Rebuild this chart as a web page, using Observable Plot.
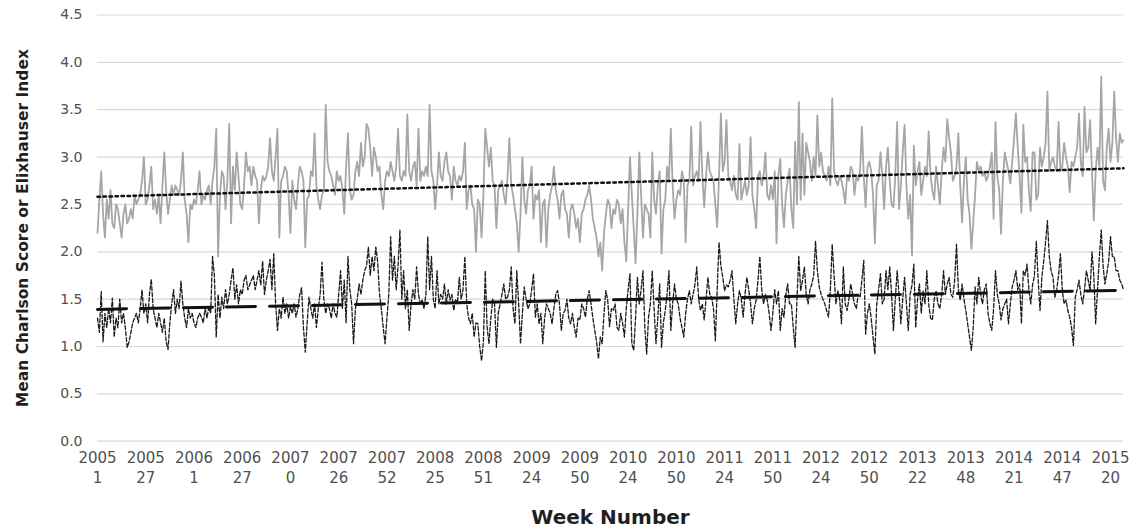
<!DOCTYPE html>
<html>
<head>
<meta charset="utf-8">
<script src="https://cdn.jsdelivr.net/npm/d3@7"></script>
<script src="https://cdn.jsdelivr.net/npm/@observablehq/plot@0.6"></script>
<style>
  body { margin: 0; background: #fff; }
  svg { display: block; }
</style>
</head>
<body>
<div id="chart"></div>
<script>
// Weekly mean Elixhauser index (grey series), 2005 week 1 onwards
const elixhauser = [
  2.20,2.55,2.85,2.40,2.15,2.55,2.35,2.65,2.30,2.25,2.50,2.45,2.30,2.15,2.40,2.50,2.30,2.35,2.45,2.35,2.60,2.50,2.55,2.60,2.75,3.00,
  2.50,2.55,2.70,2.90,2.45,2.55,2.40,2.60,2.30,2.70,3.05,2.65,2.40,2.55,2.70,2.60,2.70,2.65,2.60,2.75,3.05,2.55,2.40,2.10,2.50,2.45,
  2.55,2.50,2.65,2.85,2.50,2.60,2.55,2.65,2.70,2.50,2.75,2.90,3.30,1.95,2.60,2.85,2.80,2.45,2.75,3.35,2.30,2.90,2.65,3.05,2.80,2.50,
  2.45,2.70,3.05,2.85,2.90,2.70,2.90,2.80,2.75,2.30,2.65,2.80,2.75,2.80,2.90,3.20,2.85,2.75,3.00,3.30,2.15,2.75,2.80,2.90,2.85,2.60,
  2.20,2.75,2.55,2.45,2.70,2.90,2.85,2.75,2.05,2.55,2.60,2.85,2.80,3.25,2.70,2.55,2.45,2.60,2.65,3.55,2.95,2.85,2.80,2.70,2.60,2.85,
  2.75,2.80,2.65,2.40,2.90,3.25,2.65,2.55,2.60,2.85,2.95,2.80,3.15,2.90,3.00,3.35,3.30,3.10,2.80,3.10,3.00,2.85,2.90,2.60,2.45,2.75,
  2.85,2.80,2.95,2.85,2.75,2.90,3.30,2.80,2.75,2.85,2.80,3.45,2.85,2.75,2.90,2.95,2.70,3.30,2.75,2.85,2.80,2.90,2.80,3.55,2.85,2.75,
  2.45,2.70,3.05,2.80,2.75,2.95,3.05,2.85,2.80,2.55,2.90,2.75,2.70,2.80,2.75,2.85,3.15,2.45,2.65,2.70,2.50,2.45,2.00,2.55,2.50,2.15,
  2.60,3.30,3.10,2.90,3.10,2.75,2.70,2.25,2.65,2.70,2.75,2.60,2.50,2.80,3.20,2.70,2.60,2.45,2.30,2.00,2.40,3.00,2.55,2.40,2.65,2.70,
  2.90,2.35,2.60,2.55,2.65,2.10,2.50,2.55,2.05,2.45,2.60,2.70,2.90,2.65,2.55,2.35,2.60,2.65,2.45,2.40,2.15,2.45,2.50,2.40,2.25,2.35,
  2.10,2.40,2.45,2.55,2.60,2.70,2.55,2.35,2.25,2.15,1.95,2.10,1.80,2.20,2.40,2.55,2.50,2.25,2.45,2.40,2.55,2.50,2.30,2.45,2.10,1.90,
  2.45,3.00,2.60,2.25,1.88,2.40,3.05,2.60,2.15,2.50,2.45,2.40,2.15,3.05,2.55,2.40,2.70,2.85,1.98,2.45,2.55,2.90,2.75,3.30,2.70,2.35,
  2.55,2.65,2.60,2.85,2.75,2.10,2.70,2.75,3.32,2.70,2.80,2.85,2.75,3.37,2.80,2.47,2.80,3.05,2.85,2.80,2.75,2.50,2.26,2.80,3.46,2.85,
  2.95,3.39,2.80,2.75,2.65,2.80,2.60,2.55,3.14,2.55,2.65,2.75,2.60,2.70,3.21,2.60,2.45,2.25,2.80,2.85,2.70,2.80,3.05,2.60,2.55,2.70,
  2.55,2.85,2.09,2.80,2.98,2.50,2.26,2.60,2.75,2.88,2.45,2.25,3.16,2.50,3.58,2.55,3.25,2.60,3.15,3.05,2.95,2.75,3.00,2.80,3.44,2.90,
  3.05,2.85,2.80,2.75,2.90,2.70,3.62,2.85,2.75,2.70,2.80,2.75,2.65,2.51,2.80,2.75,2.90,2.85,2.60,2.80,2.75,2.85,3.32,2.80,2.47,2.90,
  2.95,2.85,2.60,2.09,2.70,2.75,3.05,2.80,2.45,2.90,3.10,2.75,2.50,2.47,2.80,3.37,2.45,2.70,3.05,3.34,2.70,2.35,2.60,1.96,3.12,2.70,
  2.85,2.95,2.60,2.75,2.90,2.80,3.27,2.80,2.65,2.55,2.90,2.70,2.50,2.85,3.10,2.95,3.40,3.20,3.05,2.75,2.80,2.90,3.25,2.70,2.31,2.75,
  3.00,2.55,2.40,2.03,2.30,2.60,2.95,2.85,2.90,2.80,2.85,2.75,2.80,2.90,3.05,2.35,3.37,2.80,2.65,2.19,2.75,3.05,2.95,2.85,2.72,2.95,
  3.20,3.46,3.10,2.80,2.41,3.34,2.95,3.00,2.65,2.43,3.05,3.05,2.55,2.60,3.10,2.90,3.00,3.15,3.69,2.85,2.95,3.00,2.90,2.85,3.37,2.85,
  2.90,3.15,3.00,2.90,2.63,2.95,2.90,3.00,3.10,3.46,2.95,2.80,3.53,3.05,3.10,3.39,2.85,2.33,2.85,3.10,2.90,3.85,2.75,2.65,3.10,3.30,
  2.95,3.15,3.69,3.20,2.95,3.25,3.15,3.18
];

// Weekly mean Charlson score (black dashed series), same weeks
const charlson = [
  1.30,1.15,1.58,1.05,1.35,1.20,1.40,1.25,1.51,1.10,1.30,1.20,1.50,1.25,1.35,1.20,0.99,1.05,1.15,1.25,1.30,1.35,1.25,1.40,1.60,1.35,
  1.45,1.25,1.55,1.71,1.40,1.30,1.20,1.35,1.25,1.15,1.30,1.05,0.97,1.25,1.45,1.60,1.35,1.50,1.40,1.69,1.45,1.30,1.20,1.40,1.30,1.35,
  1.25,1.20,1.30,1.35,1.31,1.25,1.40,1.30,1.42,1.35,1.95,1.75,1.10,1.55,1.30,1.52,1.40,1.60,1.45,1.55,1.70,1.83,1.50,1.65,1.45,1.60,
  1.55,1.70,1.75,1.60,1.65,1.70,1.75,1.60,1.70,1.80,1.65,1.90,1.55,1.70,1.80,1.92,1.60,1.98,1.45,1.17,1.40,1.30,1.52,1.35,1.45,1.30,
  1.42,1.35,1.45,1.31,1.40,1.55,1.62,1.20,0.94,1.25,1.52,1.40,1.30,1.45,1.20,1.40,1.55,1.89,1.50,1.35,1.45,1.40,1.30,1.45,1.35,1.31,
  1.55,1.80,1.40,1.70,1.25,1.95,1.60,1.45,1.03,1.40,1.50,1.66,1.55,1.70,1.80,1.85,2.05,1.75,1.95,1.80,2.05,1.90,1.55,1.40,1.20,1.03,
  1.30,1.55,2.16,1.70,1.95,1.60,1.85,2.23,1.50,1.80,1.40,1.60,1.17,1.45,1.60,1.50,1.84,1.55,1.45,1.49,1.40,1.55,2.16,1.60,1.95,1.50,
  1.40,1.80,1.45,1.55,1.50,1.66,1.45,1.60,1.49,1.55,1.38,1.50,1.45,1.73,1.50,1.60,1.95,1.45,1.30,1.24,1.35,1.10,1.25,1.24,1.00,0.85,
  1.05,1.80,1.20,1.03,1.30,1.50,1.45,0.99,1.35,1.45,1.55,1.66,1.50,1.52,1.60,1.84,1.40,1.24,1.80,1.45,1.03,1.35,1.63,1.50,1.40,1.45,
  1.60,1.77,1.31,1.45,1.24,1.35,1.03,1.30,1.45,1.40,1.35,1.24,1.40,1.55,1.59,1.45,1.17,1.35,1.38,1.50,1.30,1.24,1.35,1.20,1.10,1.30,
  1.28,1.45,1.40,1.31,1.50,1.59,1.45,1.30,1.17,1.05,0.87,1.10,1.03,1.35,1.59,1.49,1.21,1.40,1.38,1.45,1.20,1.17,1.35,1.25,1.10,1.40,
  1.60,1.77,1.03,0.96,1.30,1.73,1.45,1.60,1.80,1.20,0.92,1.31,1.45,1.80,1.40,1.03,1.30,1.66,0.99,1.25,1.38,1.55,1.80,1.17,1.45,1.66,
  1.50,1.45,1.30,1.20,1.10,1.35,1.50,1.59,1.45,1.55,1.65,1.84,1.50,1.38,1.45,1.28,1.50,1.73,1.55,1.52,1.40,1.06,1.60,2.10,1.85,1.73,
  1.59,1.65,1.63,1.70,1.80,1.50,1.24,1.45,1.59,1.50,1.31,1.55,1.73,1.60,1.45,1.24,1.40,1.49,1.70,1.95,1.60,1.45,1.55,1.49,1.35,1.17,
  1.35,1.60,1.45,1.59,1.17,1.40,1.31,1.55,1.66,1.45,1.45,1.20,0.99,1.50,1.95,1.59,1.70,1.84,1.55,1.45,1.60,1.66,1.75,2.11,1.80,1.63,
  1.55,1.50,1.45,1.38,1.31,1.60,2.08,1.75,1.45,1.59,1.50,1.24,1.84,1.45,1.38,1.50,1.66,1.55,1.45,1.40,1.55,1.52,1.70,1.91,1.13,1.35,
  1.45,1.30,1.10,0.92,1.45,1.60,1.77,1.45,1.50,1.80,1.60,1.84,1.55,1.17,1.50,1.80,1.55,1.24,1.50,1.73,1.45,1.17,1.55,1.65,1.87,1.20,
  1.50,1.66,1.35,1.59,1.45,1.80,1.45,1.30,1.28,1.50,1.59,1.45,1.40,1.55,1.80,1.55,1.66,1.73,1.55,1.52,1.70,2.08,1.60,1.49,1.66,1.50,
  1.38,1.24,1.10,0.96,1.20,1.63,1.45,1.73,1.55,1.45,1.60,1.66,1.35,1.24,1.17,1.40,1.80,1.55,1.45,1.28,1.40,1.45,1.50,1.24,1.45,1.63,
  1.70,1.80,1.60,1.66,1.24,1.80,1.75,1.87,1.60,1.45,1.65,1.75,2.11,1.70,1.38,1.73,1.90,2.10,2.33,1.95,1.80,1.73,1.52,1.60,1.75,1.98,
  1.60,1.45,1.49,1.38,1.31,1.20,1.01,1.52,1.60,1.70,1.55,1.45,1.60,1.80,1.70,1.59,2.00,1.75,1.24,1.60,1.95,2.23,1.85,1.66,1.77,1.90,
  2.16,1.95,1.95,1.80,1.80,1.70,1.66,1.60
];

// Category labels shown every 26 weeks (year over week number)
const tickYears = [2005,2005,2006,2006,2007,2007,2007,2008,2008,2009,2009,2010,2010,2011,2011,2012,2012,2013,2013,2014,2014,2015];
const tickWeeks = [1,27,1,27,0,26,52,25,51,24,50,24,50,24,50,24,50,22,48,21,47,20];
const tickStep = 26;
const yTicks = [0, 0.5, 1, 1.5, 2, 2.5, 3, 3.5, 4, 4.5];

const yTitle = ["Mean Charlson Score or Elixhauser Index"];
const xTitle = ["Week Number"];

const tickIndex = tickYears.map((_, k) => k * tickStep);
const week = (d, i) => i;
const value = (d) => d;

const chart = Plot.plot({
  width: 1133,
  height: 527,
  marginLeft: 97,
  marginRight: 10,
  marginTop: 14.5,
  marginBottom: 86.3,
  style: { fontFamily: "DejaVu Sans", background: "#ffffff", overflow: "visible" },
  x: { domain: [0, elixhauser.length - 1] },
  y: { domain: [0, 4.5] },
  marks: [
    Plot.gridY(yTicks, { stroke: "#d9d9d9", strokeOpacity: 1, strokeWidth: 1.2 }),
    Plot.axisY(yTicks, {
      tickSize: 0, tickPadding: 15, fontSize: 14, fill: "#505050",
      tickFormat: d3.format(".1f"), label: null
    }),
    Plot.axisX(tickIndex, {
      tickSize: 0, tickPadding: 8, fontSize: 15, fill: "#505050", lineHeight: 1.3,
      tickFormat: (d) => `${tickYears[d / tickStep]}\n${tickWeeks[d / tickStep]}`,
      label: null
    }),
    Plot.lineY(elixhauser, { x: week, y: value, stroke: "#a6a6a6", strokeWidth: 1.8 }),
    Plot.lineY(charlson, { x: week, y: value, stroke: "#1a1a1a", strokeWidth: 1.3, strokeDasharray: "4,2" }),
    Plot.linearRegressionY(elixhauser, {
      x: week, y: value, ci: 0, stroke: "#111", strokeWidth: 2.5, strokeDasharray: "2.5,3.5"
    }),
    Plot.linearRegressionY(charlson, {
      x: week, y: value, ci: 0, stroke: "#111", strokeWidth: 3, strokeDasharray: "29,14"
    }),
    Plot.text(yTitle, {
      frameAnchor: "left", dx: -74, rotate: -90, textAnchor: "middle", lineAnchor: "middle",
      fontSize: 15.5, fontWeight: "bold", fill: "#1f1f1f"
    }),
    Plot.text(xTitle, {
      frameAnchor: "bottom", dy: 76, textAnchor: "middle", lineAnchor: "middle",
      fontSize: 20, fontWeight: "bold", fill: "#1f1f1f", letterSpacing: "2px"
    })
  ]
});

document.getElementById("chart").append(chart);
</script>
</body>
</html>
